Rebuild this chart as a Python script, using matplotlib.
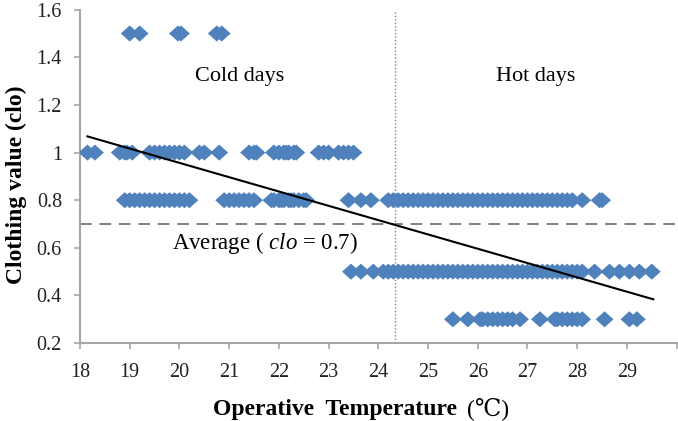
import numpy as np
import matplotlib
matplotlib.use("Agg")
import matplotlib.pyplot as plt

plt.rcParams['font.family'] = ['Liberation Serif', 'DejaVu Serif']
plt.rcParams['mathtext.fontset'] = 'custom'
plt.rcParams['mathtext.it'] = 'Liberation Serif:italic'
plt.rcParams['mathtext.rm'] = 'Liberation Serif'

# operative temperature of each observation, grouped by clothing value
t_15 = [19.0, 19.2, 19.97, 20.03, 20.75, 20.85]
t_10 = [18.15, 18.3, 18.8, 18.9, 18.95, 19.05, 19.4, 19.5, 19.6, 19.7, 19.8,
        19.9, 20.0, 20.1, 20.4, 20.5, 20.8, 21.4, 21.5, 21.55, 21.9, 22.0,
        22.1, 22.15, 22.2, 22.3, 22.35, 22.8, 22.9, 23.0, 23.2, 23.3, 23.4,
        23.5]
t_08 = [18.9, 19.0, 19.1, 19.2, 19.3, 19.4, 19.5, 19.6, 19.7, 19.8, 19.9,
        20.0, 20.1, 20.2, 20.9, 21.0, 21.1, 21.2, 21.3, 21.4, 21.5, 21.85,
        21.9, 22.0, 22.05, 22.1, 22.2, 22.25, 22.3, 22.4, 22.5, 22.55, 23.4,
        23.65, 23.85, 24.2, 24.3, 24.4, 24.5, 24.6, 24.7, 24.8, 24.9, 25.0,
        25.1, 25.2, 25.3, 25.4, 25.5, 25.6, 25.7, 25.8, 25.9, 26.0, 26.1,
        26.2, 26.3, 26.4, 26.5, 26.6, 26.7, 26.8, 26.9, 27.0, 27.1, 27.2,
        27.3, 27.4, 27.5, 27.6, 27.7, 27.8, 27.9, 28.1, 28.45, 28.5]
t_05 = [23.45, 23.65, 23.9, 24.1, 24.2, 24.3, 24.4, 24.5, 24.6, 24.7, 24.8,
        24.9, 25.0, 25.1, 25.2, 25.3, 25.4, 25.5, 25.6, 25.7, 25.8, 25.9,
        26.0, 26.1, 26.2, 26.3, 26.4, 26.5, 26.6, 26.7, 26.8, 26.9, 27.0,
        27.1, 27.2, 27.3, 27.4, 27.5, 27.6, 27.7, 27.8, 27.9, 28.0, 28.1,
        28.35, 28.65, 28.85, 29.05, 29.25, 29.5]
t_03 = [25.5, 25.8, 26.05, 26.1, 26.2, 26.3, 26.4, 26.5, 26.6, 26.7, 26.85,
        27.25, 27.55, 27.6, 27.7, 27.8, 27.9, 28.0, 28.1, 28.55, 29.05, 29.2]
rows = [(1.5, t_15), (1.0, t_10), (0.8, t_08), (0.5, t_05), (0.3, t_03)]

trend_x = [18.15, 29.53]
trend_y = [1.068, 0.384]
avg_clo = 0.7
split_temp = 24.33

xticks = list(range(18, 31))
xticklabels = [str(v) for v in range(18, 30)] + ['']
yticks = [0.2, 0.4, 0.6, 0.8, 1.0, 1.2, 1.4, 1.6]
yticklabels = ['0.2', '0.4', '0.6', '0.8', '1', '1.2', '1.4', '1.6']

fig = plt.figure(figsize=(6.78, 4.21), dpi=100)
ax = fig.add_axes([0.118, 0.185, 0.88, 0.792])

# slightly wide diamond, like the spreadsheet marker
diamond = [(-1, 0), (0, 0.9), (1, 0), (0, -0.9), (-1, 0)]
for level, temps in rows:
    ax.scatter(temps, [level] * len(temps), marker=diamond, s=165,
               color='#4F81BD', edgecolors='none', zorder=3)

ax.plot(trend_x, trend_y, color='black', lw=1.5, zorder=4)
ax.axhline(avg_clo, color='#808080', lw=1.4, ls=(0, (6, 4)), zorder=2)
ax.axvline(split_temp, color='#808080', lw=1.0, ls=(0, (1, 1.5)), zorder=2)

ax.text(21.22, 1.32, 'Cold days', fontsize=16, ha='center', va='center')
ax.text(27.17, 1.32, 'Hot days', fontsize=16, ha='center', va='center')
ax.text(19.85, 0.62, 'Average ( $clo$ = 0.7)', fontsize=16.5, ha='left',
        va='center')

ax.set_xlim(18, 30)
ax.set_ylim(0.2, 1.6)
ax.set_xticks(xticks)
ax.set_xticklabels(xticklabels)
ax.set_yticks(yticks)
ax.set_yticklabels(yticklabels)
ax.tick_params(axis='both', direction='out', length=4, width=1.2,
               color='#A6A6A6', labelsize=14.5, labelcolor='#222222')
ax.tick_params(axis='x', pad=10)
ax.tick_params(axis='y', pad=9)
for side in ['top', 'right']:
    ax.spines[side].set_visible(False)
for side in ['left', 'bottom']:
    ax.spines[side].set_color('#A6A6A6')
    ax.spines[side].set_linewidth(1.5)

xl = fig.text(213 / 678, 1 - 409 / 421, 'Operative  Temperature',
              fontsize=17, fontweight='bold', ha='left', va='center')
ax.annotate('(℃)', xy=(1, 0.5), xycoords=xl, xytext=(7, 0),
            textcoords='offset points', fontsize=17, va='center',
            annotation_clip=False)
fig.text(16 / 678, 1 - 185 / 421, 'Clothing value (clo)', fontsize=17,
         fontweight='bold', rotation=90, ha='center', va='center')

fig.savefig('out.png', dpi=100)
